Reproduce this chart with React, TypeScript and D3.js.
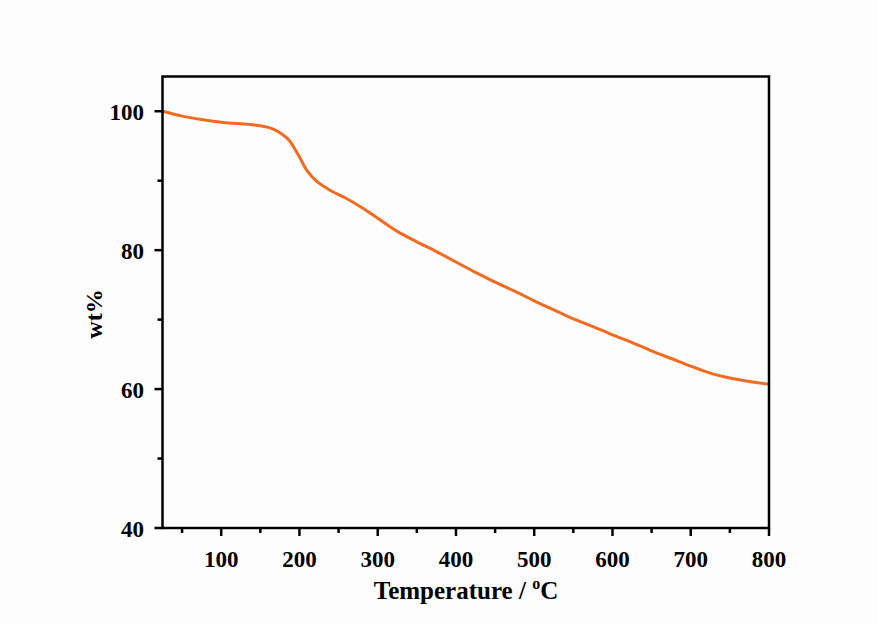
import React from "react";
import * as d3 from "d3";

const temps = [25, 50, 75, 100, 125, 150, 165, 175, 187, 200, 210, 221, 238, 259, 280, 300, 325, 350, 375, 400, 425, 450, 475, 500, 525, 550, 575, 600, 625, 650, 675, 700, 725, 750, 775, 800];
const wt = [100.0, 99.3, 98.8, 98.4, 98.2, 97.9, 97.5, 96.9, 95.8, 93.4, 91.4, 90.0, 88.7, 87.5, 86.1, 84.6, 82.7, 81.2, 79.8, 78.3, 76.8, 75.4, 74.1, 72.7, 71.4, 70.1, 69.0, 67.8, 66.7, 65.5, 64.4, 63.3, 62.3, 61.6, 61.1, 60.7];
const xMajor = [100, 200, 300, 400, 500, 600, 700, 800];
const xMinor = [50, 150, 250, 350, 450, 550, 650, 750];
const yMajor = [40, 60, 80, 100];
const yMinor = [50, 70, 90];

const W = 877, H = 625;
const L = 162.5, R = 769, T = 76.5, B = 528;
const font = "'Liberation Serif', 'Times New Roman', serif";

export default function App() {
  const x = d3.scaleLinear().domain([25, 800]).range([L, R]);
  const y = d3.scaleLinear().domain([40, 105]).range([B, T]);
  const pts: [number, number][] = temps.map((t, i) => [t, wt[i]]);
  const line = d3.line<[number, number]>().x(d => x(d[0])).y(d => y(d[1])).curve(d3.curveCatmullRom.alpha(0.5));
  return (
    <svg width={W} height={H} style={{ position: "absolute", left: 0, top: 0, background: "#fdfdfd" }}>
      <path d={line(pts) || ""} fill="none" stroke="#F26B22" strokeWidth={3} />
      <rect x={L} y={T} width={R - L} height={B - T} fill="none" stroke="#000" strokeWidth={2.5} />
      {xMajor.map(v => (
        <g key={"xm" + v}>
          <line x1={x(v)} x2={x(v)} y1={B} y2={B + 8} stroke="#000" strokeWidth={2.5} />
          <text x={x(v)} y={567} textAnchor="middle" fontFamily={font} fontWeight="bold" fontSize={23}>{v}</text>
        </g>
      ))}
      {xMinor.map(v => (
        <line key={"xn" + v} x1={x(v)} x2={x(v)} y1={B} y2={B + 5} stroke="#000" strokeWidth={2.5} />
      ))}
      {yMajor.map(v => (
        <g key={"ym" + v}>
          <line x1={L - 8} x2={L} y1={y(v)} y2={y(v)} stroke="#000" strokeWidth={2.5} />
          <text x={144} y={y(v) + 8.5} textAnchor="end" fontFamily={font} fontWeight="bold" fontSize={23}>{v}</text>
        </g>
      ))}
      {yMinor.map(v => (
        <line key={"yn" + v} x1={L - 5} x2={L} y1={y(v)} y2={y(v)} stroke="#000" strokeWidth={2.5} />
      ))}
      <text x={466} y={599} textAnchor="middle" fontFamily={font} fontWeight="bold" fontSize={25}>
        Temperature / <tspan dy={-10} fontSize={16}>o</tspan><tspan dy={10}>C</tspan>
      </text>
      <text transform={`translate(102,314) rotate(-90)`} textAnchor="middle" fontFamily={font} fontWeight="bold" fontSize={24}>wt%</text>
    </svg>
  );
}
